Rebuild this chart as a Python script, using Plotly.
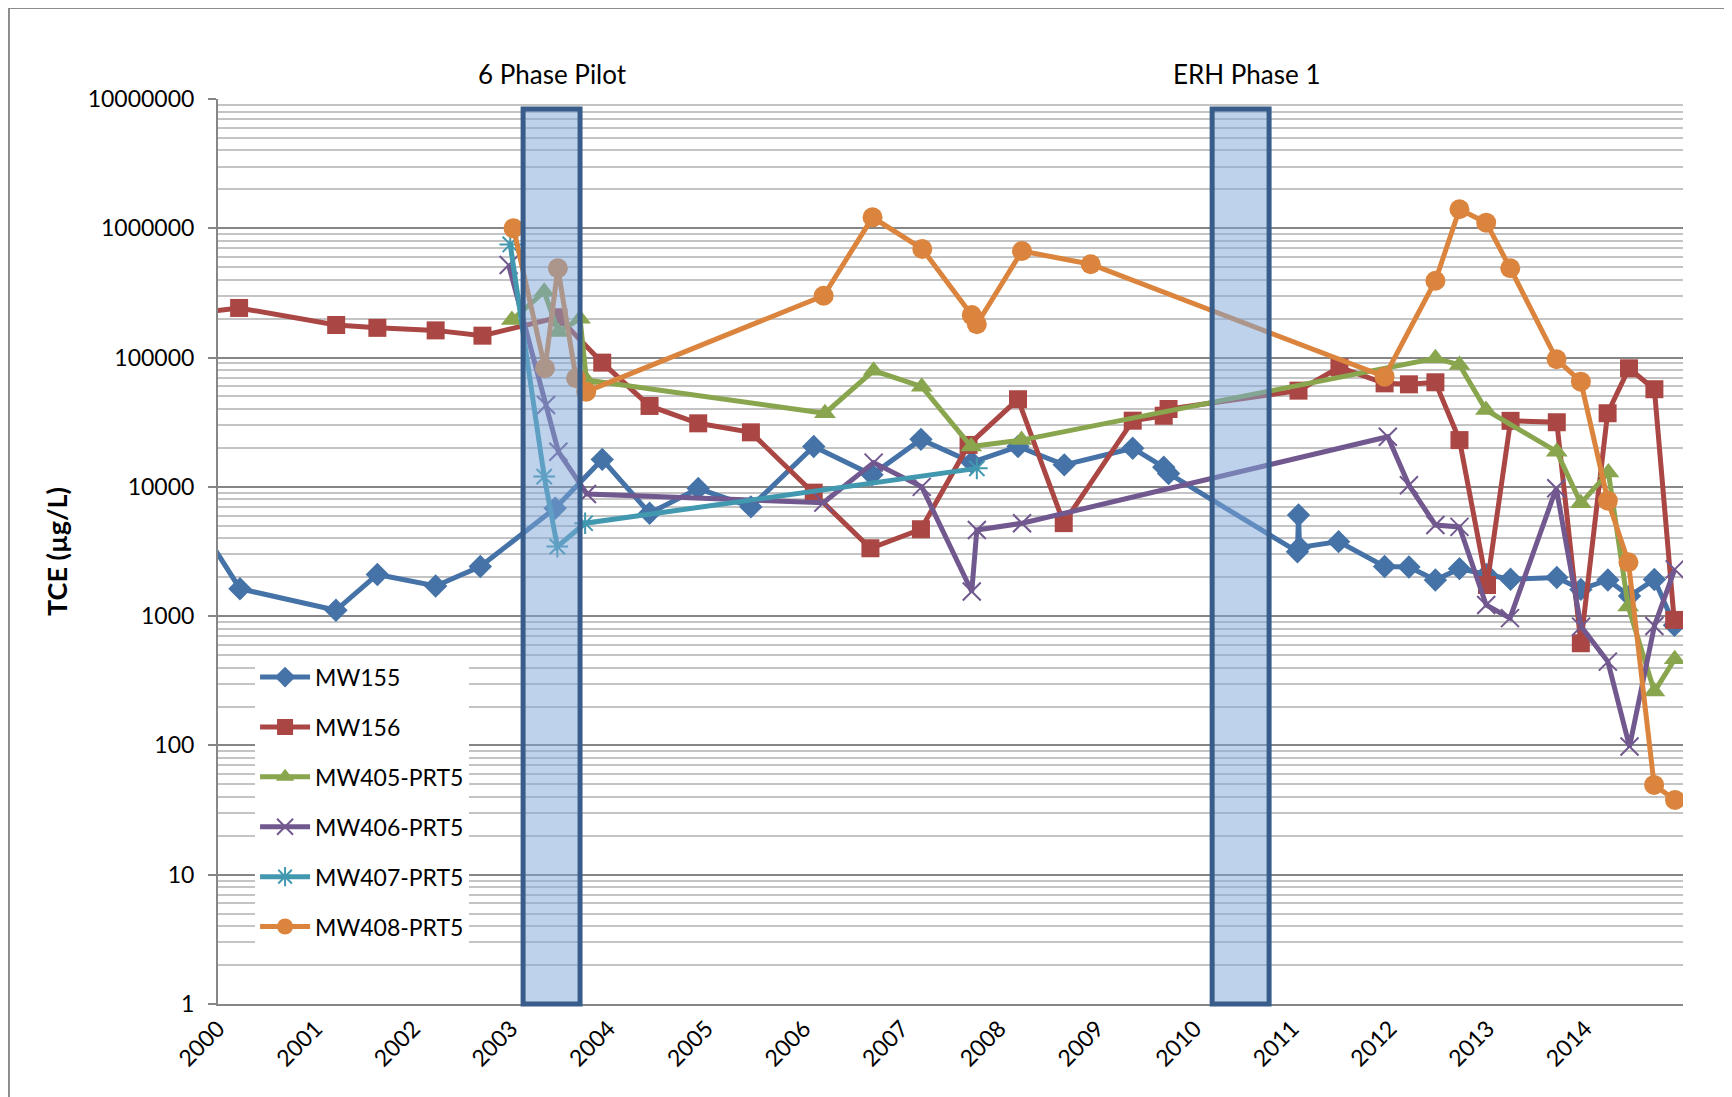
import plotly.graph_objects as go

# TCE concentrations (ug/L) by monitoring well
mw155_dates = ["1999-10-01", "2000-03-23", "2001-03-17", "2001-08-19", "2002-03-25", "2002-09-08",
               "2003-06-15", "2003-12-08", "2004-06-02", "2004-12-01", "2005-06-16", "2006-02-06",
               "2006-09-12", "2007-03-14", "2007-09-20", "2008-03-11", "2008-08-31", "2009-05-14",
               "2009-09-07", "2009-09-25", "2011-01-20", "2011-01-24", "2011-01-28", "2011-06-23",
               "2011-12-12", "2012-03-12", "2012-06-19", "2012-09-17", "2012-12-27", "2013-03-27",
               "2013-09-16", "2013-12-15", "2014-03-26", "2014-06-15", "2014-09-16", "2014-11-30"]
mw155_tce = [6000, 1630, 1110, 2100, 1710, 2420,
             6830, 16300, 6250, 9700, 7000, 20500,
             12400, 23300, 15500, 20500, 14800, 19900,
             14200, 12700, 3150, 6060, 3400, 3770,
             2420, 2400, 1905, 2330, 2100, 1930,
             1990, 1610, 1905, 1430, 1920, 850]

mw156_dates = ["1999-10-01", "2000-03-20", "2001-03-18", "2001-08-19", "2002-03-25", "2002-09-16",
               "2003-06-27", "2003-12-08", "2004-06-02", "2004-12-01", "2005-06-16", "2006-02-06",
               "2006-09-06", "2007-03-14", "2007-09-08", "2008-03-11", "2008-08-29", "2009-05-14",
               "2009-09-07", "2009-09-25", "2011-01-24", "2011-06-26", "2011-12-12", "2012-03-12",
               "2012-06-19", "2012-09-17", "2012-12-29", "2013-03-27", "2013-09-16", "2013-12-15",
               "2014-03-25", "2014-06-13", "2014-09-16", "2014-11-29"]
mw156_tce = [220000, 242000, 178600, 169800, 162300, 147700,
             205000, 91400, 42250, 31000, 26400, 9020,
             3350, 4700, 21100, 47600, 5240, 32500,
             35500, 40000, 55500, 84100, 63200, 62100,
             64400, 23000, 1740, 32400, 31600, 617,
             37100, 82600, 56900, 935]

mw405_dates = ["2003-01-04", "2003-05-05", "2003-06-27", "2003-09-16", "2003-10-10", "2006-03-20",
               "2006-09-18", "2007-03-17", "2007-09-18", "2008-03-24", "2012-06-19", "2012-09-17",
               "2012-12-25", "2013-09-16", "2013-12-15", "2014-03-28", "2014-06-10", "2014-09-16",
               "2014-12-01"]
mw405_tce = [195000, 323000, 158000, 200000, 67000, 37100,
             79200, 59600, 20500, 23000, 98800, 87700,
             39300, 18700, 7460, 12900, 1185, 261,
             465]

mw406_dates = ["2002-12-23", "2003-05-12", "2003-06-27", "2003-10-12", "2006-03-14", "2006-09-18",
               "2007-03-17", "2007-09-20", "2007-10-09", "2008-03-26", "2011-12-24", "2012-03-12",
               "2012-06-19", "2012-09-17", "2012-12-26", "2013-03-25", "2013-09-14", "2013-12-16",
               "2014-03-26", "2014-06-15", "2014-09-16", "2014-12-01"]
mw406_tce = [520000, 43000, 18700, 8800, 7550, 15400,
             10000, 1550, 4640, 5230, 24400, 10300,
             5070, 4900, 1220, 965, 9750, 830,
             445, 98, 840, 2300]

mw407_dates = ["2002-12-29", "2003-05-05", "2003-06-23", "2003-10-05", "2007-10-09"]
mw407_tce = [750000, 12000, 3450, 5230, 13900]

mw408_dates = ["2003-01-10", "2003-05-08", "2003-06-25", "2003-09-01", "2003-10-09", "2006-03-15",
               "2006-09-14", "2007-03-19", "2007-09-20", "2007-10-09", "2008-03-26", "2008-12-08",
               "2011-12-12", "2012-06-19", "2012-09-17", "2012-12-26", "2013-03-26", "2013-09-15",
               "2013-12-15", "2014-03-26", "2014-06-11", "2014-09-15", "2014-12-02"]
mw408_tce = [1000000, 82600, 491000, 69200, 54500, 301000,
             1216000, 692000, 213000, 181000, 667000, 527000,
             71200, 393000, 1403000, 1105000, 491000, 97000,
             65100, 7820, 2610, 49.5, 37.9]

# remediation periods
phase_names = ["6 Phase Pilot", "ERH Phase 1"]
phase_start = ["2003-02-15", "2010-03-07"]
phase_end = ["2003-09-16", "2010-10-06"]
phase_label_at = ["2003-06-04", "2010-07-14"]

year_ticks = [f"{y}-01-01" for y in range(2000, 2015)]
year_labels = [str(y) for y in range(2000, 2015)]
y_ticks = [1, 10, 100, 1000, 10000, 100000, 1000000, 10000000]
y_labels = ["1", "10", "100", "1000", "10000", "100000", "1000000", "10000000"]
y_minor = [m * 10 ** k for k in range(7) for m in range(2, 10)]

FONT = "Lato, 'Open Sans', sans-serif"

series = [
    ("MW155", mw155_dates, mw155_tce, "#4572A7", dict(symbol="diamond", size=18)),
    ("MW156", mw156_dates, mw156_tce, "#AA4643", dict(symbol="square", size=18)),
    ("MW405-PRT5", mw405_dates, mw405_tce, "#89A54E", dict(symbol="triangle-up", size=19)),
    ("MW406-PRT5", mw406_dates, mw406_tce, "#71588F", dict(symbol="x-thin", size=18)),
    ("MW407-PRT5", mw407_dates, mw407_tce, "#4198AF", dict(symbol="asterisk", size=18)),
    ("MW408-PRT5", mw408_dates, mw408_tce, "#DB843D", dict(symbol="circle", size=20)),
]

fig = go.Figure()
for name, dates, vals, color, mk in series:
    if mk["symbol"] in ("x-thin", "asterisk"):
        mk["line"] = dict(color=color, width=2)
    else:
        mk["line"] = dict(width=0)
    fig.add_trace(go.Scatter(
        x=dates, y=vals, name=name, mode="lines+markers",
        line=dict(color=color, width=5),
        marker=dict(color=color, **mk),
        legendgroup=name,
    ))

# shaded remediation windows drawn above the lines
for s, e in zip(phase_start, phase_end):
    fig.add_shape(type="rect", xref="x", yref="paper", x0=s, x1=e, y0=0, y1=0.989,
                  fillcolor="rgba(125,165,215,0.5)", line=dict(color="#385D8A", width=5),
                  layer="above")

for name, at in zip(phase_names, phase_label_at):
    fig.add_annotation(x=at, xref="x", y=1.0276, yref="paper", text=name, showarrow=False,
                       font=dict(family=FONT, size=26, color="black"), yanchor="middle")

# chart-area border (only top and left edges fall inside the picture)
fig.add_shape(type="line", xref="paper", yref="paper", x0=-0.1427, x1=1.2, y0=1.1005, y1=1.1005,
              line=dict(color="#8C8C8C", width=2), layer="above")
fig.add_shape(type="line", xref="paper", yref="paper", x0=-0.1427, x1=-0.1427, y0=-0.2, y1=1.1005,
              line=dict(color="#8C8C8C", width=2), layer="above")

fig.update_layout(
    width=1724, height=1089, autosize=False,
    margin=dict(l=210, r=49, t=91, b=93),
    paper_bgcolor="white", plot_bgcolor="white",
    font=dict(family=FONT, size=23, color="black"),
    showlegend=True,
    legend=dict(x=0.0253, y=0.385, xanchor="left", yanchor="top", bgcolor="white",
                font=dict(family=FONT, size=23), tracegroupgap=17, itemsizing="trace",
                itemwidth=50),
    xaxis=dict(type="date", range=["2000-01-01", "2015-01-01"], tickmode="array",
               tickvals=year_ticks, ticktext=year_labels, tickangle=-45,
               showgrid=False, showline=True, linecolor="#868686", linewidth=2,
               ticks="", zeroline=False, tickfont=dict(family=FONT, size=23)),
    yaxis=dict(type="log", range=[0, 7], tickmode="array", tickvals=y_ticks, ticktext=y_labels,
               showgrid=True, gridcolor="#868686", gridwidth=2,
               showline=True, linecolor="#868686", linewidth=2,
               ticks="outside", ticklen=8, tickwidth=2, tickcolor="#868686",
               ticklabelstandoff=9,
               minor=dict(tickmode="array", tickvals=y_minor, showgrid=True,
                          gridcolor="#C4C4C4", gridwidth=2, ticks=""),
               title=dict(text="<b>TCE (µg/L)</b>", standoff=12,
                          font=dict(family=FONT, size=27)),
               tickfont=dict(family=FONT, size=23), zeroline=False),
)

fig.write_html("out.html")
